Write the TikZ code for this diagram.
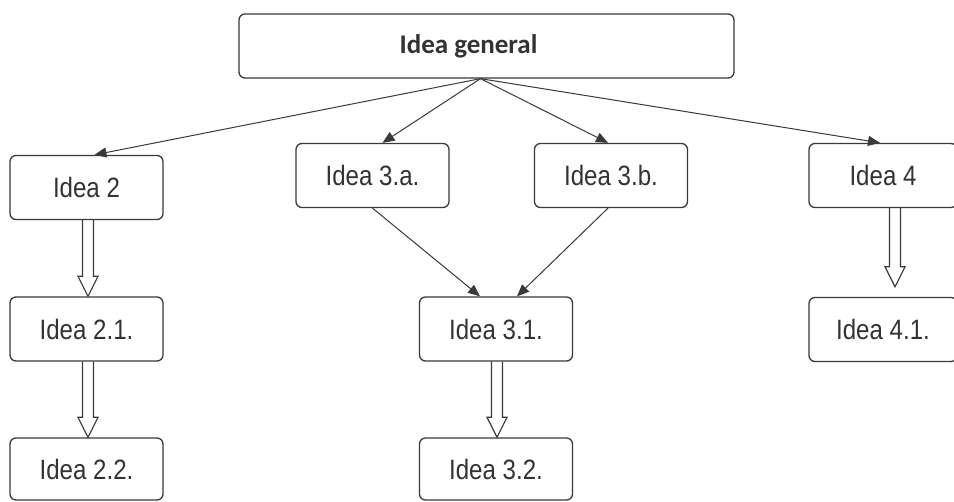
\documentclass[tikz,border=0pt]{standalone}
\usepackage{fontspec}
\newfontfamily\boxfont[FakeStretch=0.86]{Liberation Sans}
\newfontfamily\genfont{Carlito}
\usetikzlibrary{arrows.meta,calc}
\definecolor{ln}{HTML}{3A3A3A}
\definecolor{tx}{HTML}{333333}
\newcommand\hollowarrow[2]{%
  \draw[dbl] let \p1=(#1), \p2=(#2) in
    (\x1-5.5pt,\y1) -- (\x1-5.5pt,\y2+20pt) -- (\x1-10pt,\y2+20pt) -- (\x1,\y2)
    -- (\x1+10pt,\y2+20pt) -- (\x1+5.5pt,\y2+20pt) -- (\x1+5.5pt,\y1);}
\begin{document}
\begin{tikzpicture}[x=1pt,y=-1pt,
  box/.style={draw=ln, line width=1.3pt, rounded corners=6pt, fill=white,
    minimum width=153pt, minimum height=64pt, inner sep=0pt, text=tx,
    font=\boxfont\fontsize{28}{32}\selectfont},
  thinarr/.style={draw=ln, line width=1pt, -{Triangle[length=12pt,width=10pt]}},
  dbl/.style={draw=ln, line width=1.2pt, line join=miter}]
\clip (0,0) rectangle (954,502);
\fill[white] (0,0) rectangle (954,502);
\node[box, minimum width=495pt, font=\genfont\bfseries\fontsize{27}{30}\selectfont] (gen) at (486.5,46) {\hspace*{-36pt}Idea general};
\node[box] (i2) at (86.5,187.5) {Idea 2};
\node[box] (i3a) at (372.5,175.5) {Idea 3.a.};
\node[box] (i3b) at (611,175.5) {Idea 3.b.};
\node[box, minimum width=148pt] (i4) at (883,175.5) {Idea 4};
\node[box] (i21) at (86.5,329) {Idea 2.1.};
\node[box] (i31) at (496,329) {Idea 3.1.};
\node[box, minimum width=148pt] (i41) at (883,329.5) {Idea 4.1.};
\node[box, minimum height=62pt] (i22) at (86.5,469) {Idea 2.2.};
\node[box, minimum height=62pt] (i32) at (496,469) {Idea 3.2.};
% connector end points
\coordinate (gs) at ($(gen.south)+(-6,0)$);
\coordinate (t2) at ($(i2.north)+(8,0)$);
\coordinate (t3a) at ($(i3a.north)+(10,0)$);
\coordinate (t3b) at ($(i3b.north)+(-3,0)$);
\coordinate (t4) at ($(i4.north)+(-3,0)$);
\coordinate (t31a) at ($(i31.north)+(-16,0)$);
\coordinate (t31b) at ($(i31.north)+(21,0)$);
\coordinate (s2) at ($(i2.south)+(1.5,0)$);
\coordinate (s21) at ($(i21.south)+(1.5,0)$);
\coordinate (s31) at ($(i31.south)+(1,0)$);
\coordinate (s4) at ($(i4.south)+(12,0)$);
\coordinate (e41) at ($(i41.north)+(0,-10)$);
% thin arrows
\draw[thinarr] (gs) -- (t2);
\draw[thinarr] (gs) -- (t3a);
\draw[thinarr] (gs) -- (t3b);
\draw[thinarr] (gs) -- (t4);
\draw[thinarr] (i3a.south) -- (t31a);
\draw[thinarr] ($(i3b.south)+(-3,0)$) -- (t31b);
% hollow arrows
\hollowarrow{s2}{i21.north}
\hollowarrow{s21}{i22.north}
\hollowarrow{s31}{i32.north}
\hollowarrow{s4}{e41}
\end{tikzpicture}
\end{document}
